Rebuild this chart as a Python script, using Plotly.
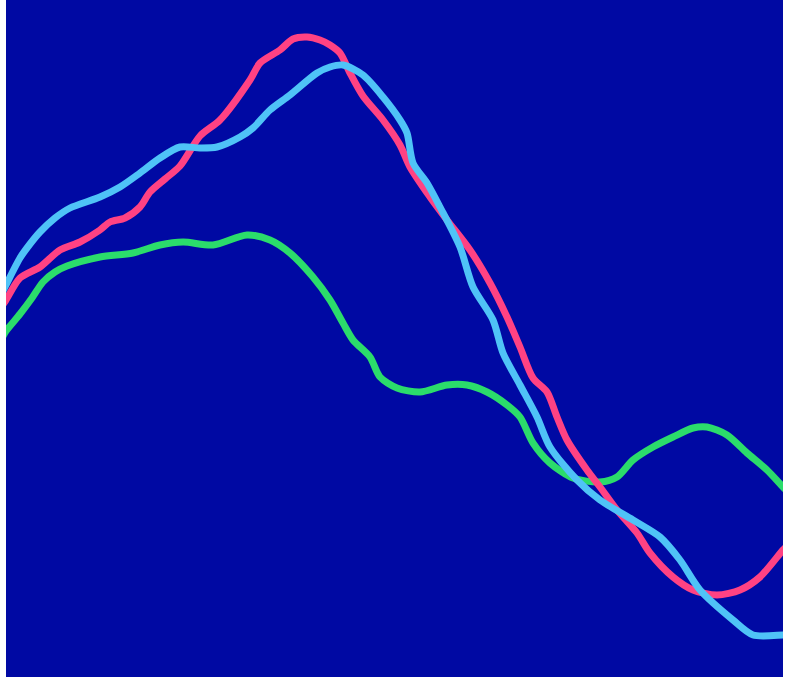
import plotly.graph_objects as go

# Series values (x position, y level; y axis runs top-down)
pink_x = [2, 6, 20, 40, 60, 80, 100, 110, 125, 140, 150, 165, 180, 200, 220, 250, 260, 280, 293, 307, 320, 330, 340, 350, 363, 383, 400, 410, 430, 447, 470, 490, 507, 520, 533, 547, 557, 567, 587, 600, 617, 637, 650, 673, 693, 717, 740, 760, 783, 787]
pink_y = [306, 300, 278, 267, 250, 242, 230, 222, 218, 207, 192, 179, 166, 136, 120, 80, 63, 50, 39, 37, 40, 45, 53, 73, 96, 120, 145, 167, 197, 220, 250, 283, 317, 347, 378, 392, 417, 440, 470, 487, 510, 533, 553, 577, 590, 595, 590, 577, 550, 546]

blue_x = [2, 6, 20, 30, 40, 55, 70, 100, 120, 140, 160, 180, 200, 217, 240, 253, 270, 290, 317, 330, 343, 363, 383, 400, 407, 413, 427, 440, 460, 473, 493, 503, 520, 537, 550, 577, 600, 633, 660, 680, 700, 733, 753, 783, 787]
blue_y = [293, 285, 258, 244, 232, 218, 208, 197, 187, 173, 158, 147, 148, 147, 137, 128, 110, 95, 73, 67, 65, 75, 97, 120, 133, 163, 183, 207, 247, 287, 320, 353, 385, 417, 447, 480, 500, 520, 537, 560, 590, 620, 635, 635, 635]

green_x = [2, 6, 20, 32, 43, 55, 67, 100, 133, 160, 183, 213, 247, 270, 290, 313, 330, 343, 353, 370, 380, 397, 420, 447, 467, 487, 507, 520, 533, 550, 573, 600, 617, 633, 653, 673, 693, 707, 727, 747, 767, 783, 787]
green_y = [338, 331, 314, 298, 282, 272, 266, 257, 253, 245, 242, 245, 235, 240, 253, 277, 300, 323, 340, 357, 377, 388, 392, 385, 385, 392, 405, 417, 443, 463, 478, 482, 477, 460, 447, 437, 428, 427, 435, 453, 470, 487, 491]

fig = go.Figure()
for xs, ys, col in [(green_x, green_y, "#2BDC6B"),
                    (pink_x, pink_y, "#FF4283"),
                    (blue_x, blue_y, "#4FC3F7")]:
    fig.add_trace(go.Scatter(x=xs, y=ys, mode="lines",
                             line=dict(color=col, width=7, shape="spline", smoothing=0.8),
                             hoverinfo="skip"))

fig.update_layout(
    width=789, height=677,
    margin=dict(l=6, r=6, t=0, b=0),
    paper_bgcolor="white",
    plot_bgcolor="#0009A3",
    showlegend=False,
    xaxis=dict(range=[6, 783], visible=False, showgrid=False, zeroline=False),
    yaxis=dict(range=[677, 0], visible=False, showgrid=False, zeroline=False),
)
fig.write_html("out.html", config={"displayModeBar": False},
               post_script="document.body.style.margin='0';document.body.style.overflow='hidden';")
